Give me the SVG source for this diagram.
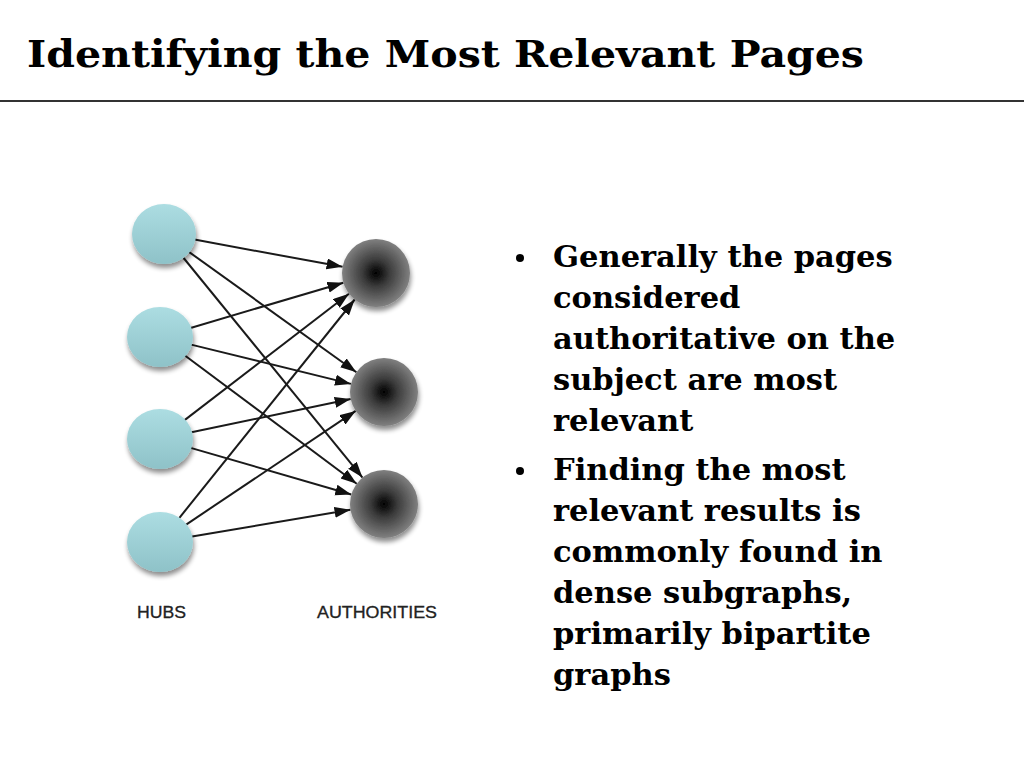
<svg xmlns="http://www.w3.org/2000/svg" width="1024" height="768" viewBox="0 0 1024 768">
<defs>
<style>
.title{font-family:"DejaVu Serif","Liberation Serif",serif;font-weight:bold;font-size:38px;fill:#000}
.body{font-family:"DejaVu Serif","Liberation Serif",serif;font-weight:bold;font-size:30.5px;fill:#000}
.lbl{font-family:"Liberation Sans",Arial,sans-serif;font-size:16px;fill:#222;stroke:#222;stroke-width:0.3}
.edge{stroke:#1a1a1a;stroke-width:2;fill:none;marker-end:url(#arr)}
</style>
<linearGradient id="hubg" x1="0" y1="0" x2="0" y2="1">
<stop offset="0" stop-color="#acdde2"/>
<stop offset="1" stop-color="#8ec2c8"/>
</linearGradient>
<radialGradient id="authg" cx="0.5" cy="0.5" r="0.5">
<stop offset="0" stop-color="#000"/>
<stop offset="0.4" stop-color="#3c3c3c"/>
<stop offset="1" stop-color="#808080"/>
</radialGradient>
<filter id="sh" x="-30%" y="-30%" width="160%" height="170%">
<feGaussianBlur in="SourceAlpha" stdDeviation="2.5"/>
<feOffset dx="1" dy="4" result="b"/>
<feComponentTransfer><feFuncA type="linear" slope="0.45"/></feComponentTransfer>
<feMerge><feMergeNode/><feMergeNode in="SourceGraphic"/></feMerge>
</filter>
<marker id="arr" markerWidth="17" markerHeight="12" refX="16" refY="5.5" orient="auto" markerUnits="userSpaceOnUse">
<path d="M0,0 L16,5.5 L0,11 Z" fill="#111"/>
</marker>
</defs>
<rect width="1024" height="768" fill="#fff"/>
<g id="title">
<text class="title" x="27" y="67" textLength="837" lengthAdjust="spacingAndGlyphs">Identifying the Most Relevant Pages</text>
<rect x="0" y="100" width="1024" height="2" fill="#333"/>
</g>
<g id="connectors">
<line class="edge" x1="194.5" y1="239.6" x2="342.6" y2="266.8"/>
<line class="edge" x1="189.2" y1="252.1" x2="356.4" y2="372.2"/>
<line class="edge" x1="183.6" y1="258.0" x2="362.5" y2="477.6"/>
<line class="edge" x1="189.7" y1="328.2" x2="343.4" y2="282.7"/>
<line class="edge" x1="190.1" y1="344.4" x2="351.0" y2="383.9"/>
<line class="edge" x1="184.9" y1="355.5" x2="356.7" y2="483.7"/>
<line class="edge" x1="184.6" y1="420.1" x2="349.0" y2="293.7"/>
<line class="edge" x1="190.3" y1="432.6" x2="350.7" y2="399.0"/>
<line class="edge" x1="189.8" y1="447.6" x2="351.3" y2="494.5"/>
<line class="edge" x1="179.4" y1="517.8" x2="354.7" y2="299.5"/>
<line class="edge" x1="185.8" y1="524.8" x2="355.7" y2="410.9"/>
<line class="edge" x1="190.6" y1="536.8" x2="350.5" y2="509.7"/>
</g>
<g id="hub1"><ellipse cx="164" cy="234" rx="32" ry="30" fill="url(#hubg)" filter="url(#sh)"/></g>
<g id="hub2"><ellipse cx="160" cy="337" rx="33" ry="30" fill="url(#hubg)" filter="url(#sh)"/></g>
<g id="hub3"><ellipse cx="160" cy="439" rx="33" ry="30" fill="url(#hubg)" filter="url(#sh)"/></g>
<g id="hub4"><ellipse cx="160" cy="542" rx="33" ry="30" fill="url(#hubg)" filter="url(#sh)"/></g>
<g id="auth1"><circle cx="376" cy="273" r="34" fill="url(#authg)" filter="url(#sh)"/></g>
<g id="auth2"><circle cx="384" cy="392" r="34" fill="url(#authg)" filter="url(#sh)"/></g>
<g id="auth3"><circle cx="384" cy="504" r="34" fill="url(#authg)" filter="url(#sh)"/></g>
<g id="labels">
<text class="lbl" x="137" y="618" textLength="49" lengthAdjust="spacingAndGlyphs">HUBS</text>
<text class="lbl" x="317" y="618" textLength="120" lengthAdjust="spacingAndGlyphs">AUTHORITIES</text>
</g>
<g id="bullets">
<circle cx="520" cy="258" r="4" fill="#000"/>
<circle cx="520" cy="471" r="4" fill="#000"/>
<text class="body" x="553" y="267">Generally the pages</text>
<text class="body" x="553" y="308">considered</text>
<text class="body" x="553" y="349">authoritative on the</text>
<text class="body" x="553" y="390">subject are most</text>
<text class="body" x="553" y="431">relevant</text>
<text class="body" x="553" y="480">Finding the most</text>
<text class="body" x="553" y="521">relevant results is</text>
<text class="body" x="553" y="562">commonly found in</text>
<text class="body" x="553" y="603">dense subgraphs,</text>
<text class="body" x="553" y="644">primarily bipartite</text>
<text class="body" x="553" y="685">graphs</text>
</g>
</svg>
